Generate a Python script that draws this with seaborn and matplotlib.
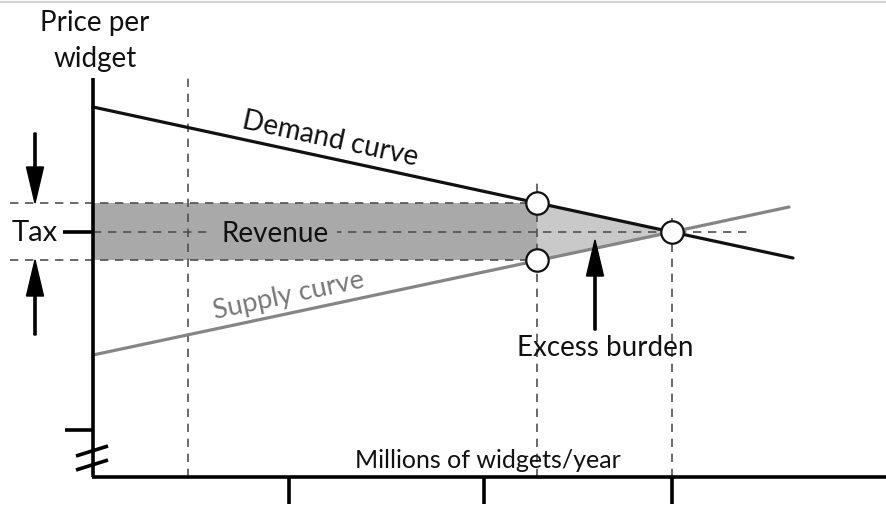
import numpy as np
import pandas as pd
import matplotlib
matplotlib.use("Agg")
import matplotlib.pyplot as plt
import seaborn as sns

# ---- data (schematic units: quantity to the right, price upward, origin at axes corner) ----
demand_q = [0, 579, 700]
demand_p = [370, 245, 219]
supply_q = [0, 579, 696]
supply_p = [122, 245, 270]
tax_q = 444                 # quantity with tax
buyer_price = 274           # price paid by buyers
seller_price = 217          # price received by sellers
equil_q = 579
equil_p = 245
x_ticks = [196, 391, 579]
ref_q = 95                  # left dashed reference line

labels = {
    "ylabel": "Price per\nwidget",
    "xlabel": "Millions of widgets/year",
    "demand": "Demand curve",
    "supply": "Supply curve",
    "revenue": "Revenue",
    "tax": "Tax",
    "burden": "Excess burden",
}

sns.set_theme(style="white")
plt.rcParams['font.family'] = ['Lato', 'DejaVu Sans']

fig = plt.figure(figsize=(8.86, 5.07), dpi=100)
ax = fig.add_axes([0, 0, 1, 1])

DASH = dict(color="#505050", lw=1.2, dashes=(5, 4))
REV_GRAY = "#a9a9a9"

# top border
ax.plot([-93, 793], [475, 475], color="#d4d4d4", lw=1.5)

# shaded areas
ax.fill_between([0, tax_q], [seller_price, seller_price], [buyer_price, buyer_price],
                color=REV_GRAY, lw=0, zorder=1)
ax.fill([tax_q, tax_q, equil_q], [buyer_price, seller_price, equil_p],
        color="#c9c9c9", lw=0, zorder=1)

# dashed guide lines
ax.plot([-83, tax_q], [buyer_price, buyer_price], zorder=2, **DASH)
ax.plot([-83, tax_q], [seller_price, seller_price], zorder=2, **DASH)
ax.plot([0, 655], [equil_p, equil_p], zorder=2, **DASH)
ax.plot([ref_q, ref_q], [0, 402], zorder=2, **DASH)
ax.plot([tax_q, tax_q], [0, 297], zorder=2, **DASH)
ax.plot([equil_q, equil_q], [0, 259], zorder=2, **DASH)

# curves
curves = pd.DataFrame({
    "q": demand_q + supply_q,
    "p": demand_p + supply_p,
    "curve": ["Demand"] * len(demand_q) + ["Supply"] * len(supply_q),
})
sns.lineplot(data=curves, x="q", y="p", hue="curve",
             palette={"Demand": "#111111", "Supply": "#858585"},
             lw=2.3, legend=False, ax=ax, zorder=3, sort=False)

# circles
ax.scatter([tax_q, tax_q, equil_q], [buyer_price, seller_price, equil_p],
           s=260, facecolor="white", edgecolor="#111111", lw=1.6, zorder=5)

# axes lines
AX = dict(color="black", lw=2.6, solid_capstyle="butt", zorder=4)
ax.plot([0, 0], [0, 399], **AX)
ax.plot([-1.3, 793], [0, 0], **AX)
ax.plot([-28, 0], [47, 47], **AX)
for xt in x_ticks:
    ax.plot([xt, xt], [0, -27], **AX)
for yb in [26, 12]:
    ax.plot([-17, 15], [yb - 5, yb + 5], **AX)
# tax marker line
ax.plot([-30, 0], [equil_p, equil_p], **AX)

# arrows
ARW = dict(width=2.2, head_width=17, head_length=36, length_includes_head=True,
           color="black", zorder=6)
ax.arrow(-58, 344, 0, buyer_price - 344, **ARW)
ax.arrow(-58, 142, 0, seller_price - 142, **ARW)
ax.arrow(502, 147, 0, 237 - 147, **ARW)

# text
ax.text(2, 436, labels["ylabel"], ha="center", va="center", fontsize=20,
        linespacing=1.45, color="#111111")
ax.text(395, 16, labels["xlabel"], ha="center", va="center", fontsize=18,
        color="#111111")
ax.text(237, 338, labels["demand"], ha="center", va="center", fontsize=20,
        rotation=-12.2, rotation_mode="anchor", color="#111111")
ax.text(196, 181, labels["supply"], ha="center", va="center", fontsize=19.5,
        rotation=12.0, rotation_mode="anchor", color="#777777")
ax.text(182, 243, labels["revenue"], ha="center", va="center", fontsize=20,
        color="#111111", zorder=6,
        bbox=dict(boxstyle="square,pad=0.3", facecolor=REV_GRAY, edgecolor="none"))
ax.text(-58, 244, labels["tax"], ha="center", va="center", fontsize=21,
        color="#111111")
ax.text(512, 129, labels["burden"], ha="center", va="center", fontsize=20,
        color="#111111")

ax.set_xlim(-93, 793)
ax.set_ylim(-30, 477)
ax.axis("off")

fig.savefig("out.png", dpi=100)
